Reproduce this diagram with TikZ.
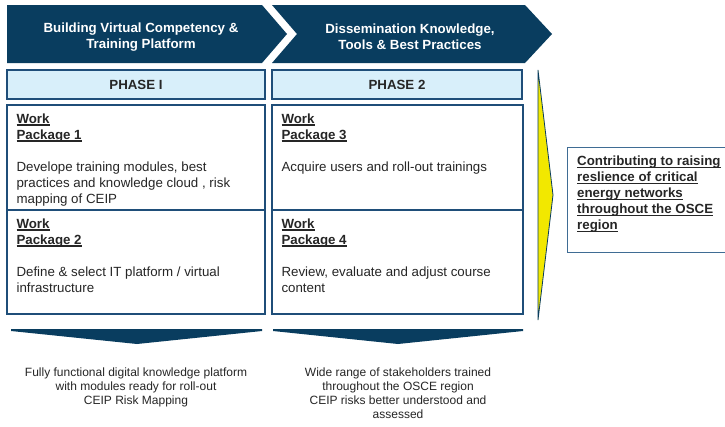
\documentclass[tikz,border=0pt]{standalone}
\usepackage{fontspec}
\setmainfont{Liberation Sans}
\newcommand{\myul}[1]{\setbox0\hbox{#1}\rlap{\rule[-2.4pt]{\wd0}{1.1pt}}\box0}
\definecolor{navy}{HTML}{093D5F}
\definecolor{bord}{HTML}{1F4E79}
\definecolor{goalbord}{HTML}{3F6C94}
\definecolor{phasefill}{HTML}{D8EFFA}
\definecolor{yell}{HTML}{F2E800}
\definecolor{txt}{HTML}{262626}
\begin{document}
\begin{tikzpicture}[x=1pt,y=-1pt,
  box/.style={draw=bord, line width=1.3pt, rectangle, inner sep=0pt},
  phase/.style={box, fill=phasefill, text=txt, font=\bfseries\fontsize{13.3}{16}\selectfont},
  wptext/.style={anchor=north west, inner sep=0pt, align=left, text=txt, font=\fontsize{13.3}{16}\selectfont},
  headtext/.style={inner sep=0pt, align=center, text=white, font=\bfseries\fontsize{13.3}{16}\selectfont},
  outtext/.style={anchor=north, inner sep=0pt, align=center, text=txt, font=\fontsize{12}{14.2}\selectfont},
  chev/.style={fill=navy, draw=none},
]
\useasboundingbox[fill=white] (0,0) rectangle (725,426);

% header chevrons
\fill[chev] (7,5) -- (262,5) -- (287,34) -- (262,63) -- (7,63) -- cycle;
\fill[chev] (272,5) -- (525,5) -- (552,34) -- (525,63) -- (272,63) -- (297,34) -- cycle;
\node[headtext] (h1) at (141,37) {Building Virtual Competency \&\\Training Platform};
\node[headtext] (h2) at (410,37) {Dissemination Knowledge,\\Tools \& Best Practices};

% phases
\node[phase, minimum width=258pt, minimum height=29pt] (p1) at (136,84.5) {PHASE I};
\node[phase, minimum width=250pt, minimum height=29pt] (p2) at (397,84.5) {PHASE 2};

% work package boxes
\node[box, minimum width=258pt, minimum height=105pt] (wp1) at (136,157.5) {};
\node[box, minimum width=258pt, minimum height=104pt] (wp2) at (136,262) {};
\node[box, minimum width=251pt, minimum height=105pt] (wp3) at (397.5,157.5) {};
\node[box, minimum width=251pt, minimum height=104pt] (wp4) at (397.5,262) {};

\node[wptext] (t1) at ([xshift=10pt,yshift=-9pt]wp1.north west)
  {\textbf{\myul{Work}}\\\textbf{\myul{Package 1}}\\[16pt]Develope training modules, best\\practices and knowledge cloud , risk\\mapping of CEIP};
\node[wptext] (t2) at ([xshift=10pt,yshift=-9pt]wp2.north west)
  {\textbf{\myul{Work}}\\\textbf{\myul{Package 2}}\\[16pt]Define \& select IT platform / virtual\\infrastructure};
\node[wptext] (t3) at ([xshift=10pt,yshift=-9pt]wp3.north west)
  {\textbf{\myul{Work}}\\\textbf{\myul{Package 3}}\\[16pt]Acquire users and roll-out trainings};
\node[wptext] (t4) at ([xshift=10pt,yshift=-9pt]wp4.north west)
  {\textbf{\myul{Work}}\\\textbf{\myul{Package 4}}\\[16pt]Review, evaluate and adjust course\\content};

% yellow triangle
\draw[draw=navy, fill=yell, line width=0.8pt, line join=miter] (538,70) -- (553,195) -- (538,320) -- cycle;

% goal box
\node[box, draw=goalbord, line width=1pt, minimum width=175pt, minimum height=105pt, anchor=north west] (goal) at (567,147) {};
\node[wptext, font=\bfseries\fontsize{13.3}{16}\selectfont] (gt) at ([xshift=10pt,yshift=-9pt]goal.north west)
  {\myul{Contributing to raising}\\\myul{reslience of critical}\\\myul{energy networks}\\\myul{throughout the OSCE}\\\myul{region}};

% down arrows
\fill[chev] (11,329) -- (262,329) -- (262,331) -- (137,344) -- (11,331) -- cycle;
\fill[chev] (273,329) -- (523,329) -- (523,331) -- (398,344) -- (273,331) -- cycle;

% outcomes
\node[outtext] (o1) at (136,367.3) {Fully functional digital knowledge platform\\with modules ready for roll-out\\CEIP Risk Mapping};
\node[outtext] (o2) at (398,367.3) {Wide range of stakeholders trained\\throughout the OSCE region\\CEIP risks better understood and\\assessed};
\end{tikzpicture}
\end{document}
